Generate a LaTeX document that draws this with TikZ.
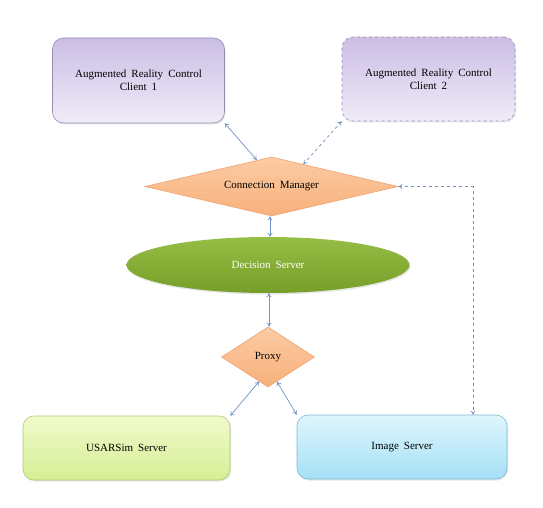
\documentclass[tikz,border=0pt]{standalone}
\usepackage{fontspec}
\setmainfont{Liberation Serif}
\usepackage{xcolor}
\usetikzlibrary{shapes.geometric,arrows.meta,shadows}

\definecolor{arrowblue}{RGB}{112,146,196}
\definecolor{clienttop}{RGB}{203,190,229}
\definecolor{clientbot}{RGB}{240,235,248}
\definecolor{clientline}{RGB}{150,140,176}
\definecolor{mgrtop}{RGB}{252,203,163}
\definecolor{mgrbot}{RGB}{248,176,124}
\definecolor{mgrline}{RGB}{238,162,110}
\definecolor{dectop}{RGB}{150,190,70}
\definecolor{decbot}{RGB}{118,158,40}
\definecolor{simtop}{RGB}{240,250,204}
\definecolor{simbot}{RGB}{214,238,148}
\definecolor{simline}{RGB}{176,200,116}
\definecolor{imgtop}{RGB}{222,246,253}
\definecolor{imgbot}{RGB}{166,224,246}
\definecolor{imgline}{RGB}{126,186,212}

\newcommand\labelfont{\fontsize{11}{13}\selectfont\spaceskip=5pt plus 1pt\relax}

\tikzset{
  box/.style={rectangle, rounded corners=11pt, draw, line width=0.6pt,
    align=center, inner sep=0pt,
    drop shadow={opacity=0.2, shadow xshift=1pt, shadow yshift=-1.5pt}},
  clientbox/.style={box, draw=clientline, top color=clienttop, bottom color=clientbot},
  mgrshape/.style={diamond, draw=mgrline, line width=0.6pt, inner sep=0pt,
    top color=mgrtop, bottom color=mgrbot},
  link/.style={draw=arrowblue, line width=0.7pt,
    {To[length=4pt,width=5pt]}-{To[length=4pt,width=5pt]}}
}

\begin{document}
\begin{tikzpicture}[x=1pt, y=-1pt, font=\labelfont]
  \useasboundingbox (0,0) rectangle (543,508);

  % clients
  \node[clientbox, minimum width=172pt, minimum height=85pt] (client1)
    at (138.5,80.5) {Augmented Reality Control\\Client 1};
  \node[clientbox, dashed, minimum width=173pt, minimum height=84pt] (client2)
    at (428.5,79) {Augmented Reality Control\\Client 2};

  % connection manager
  \node[mgrshape, aspect=4.3, minimum width=253pt, minimum height=59pt] (manager)
    at (271.5,186.5) {Connection Manager};

  % decision server
  \node[ellipse, draw=none, top color=dectop, bottom color=decbot, text=white,
    minimum width=283pt, minimum height=56pt, inner sep=0pt,
    drop shadow={opacity=0.2, shadow xshift=1pt, shadow yshift=-1.5pt}] (decision)
    at (268,265) {Decision Server};

  % proxy
  \node[mgrshape, aspect=1.55, minimum width=93pt, minimum height=60pt] (proxy)
    at (268,357) {Proxy};

  % servers
  \node[box, draw=simline, top color=simtop, bottom color=simbot,
    minimum width=207pt, minimum height=64pt] (usarsim)
    at (126.5,448) {USARSim Server};
  \node[box, draw=imgline, top color=imgtop, bottom color=imgbot,
    minimum width=210pt, minimum height=64pt] (imgsrv)
    at (402,447) {Image Server};

  \coordinate (bend) at (473,186.5);

  % connectors
  \draw[link] (client1.south east) -- (manager.119);
  \draw[link, dashed] (client2.south west) -- (manager.35);
  \draw[link, dashed] (manager.east) -- (bend) -- (bend |- imgsrv.north);
  \draw[link] (manager.south -| 270,0) -- (decision.north -| 270,0);
  \draw[link] (decision.south -| 269,0) -- (proxy.north -| 269,0);
  \draw[link] (proxy.250) -- (usarsim.north east);
  \draw[link] (proxy.290) -- (imgsrv.north west);
\end{tikzpicture}
\end{document}
